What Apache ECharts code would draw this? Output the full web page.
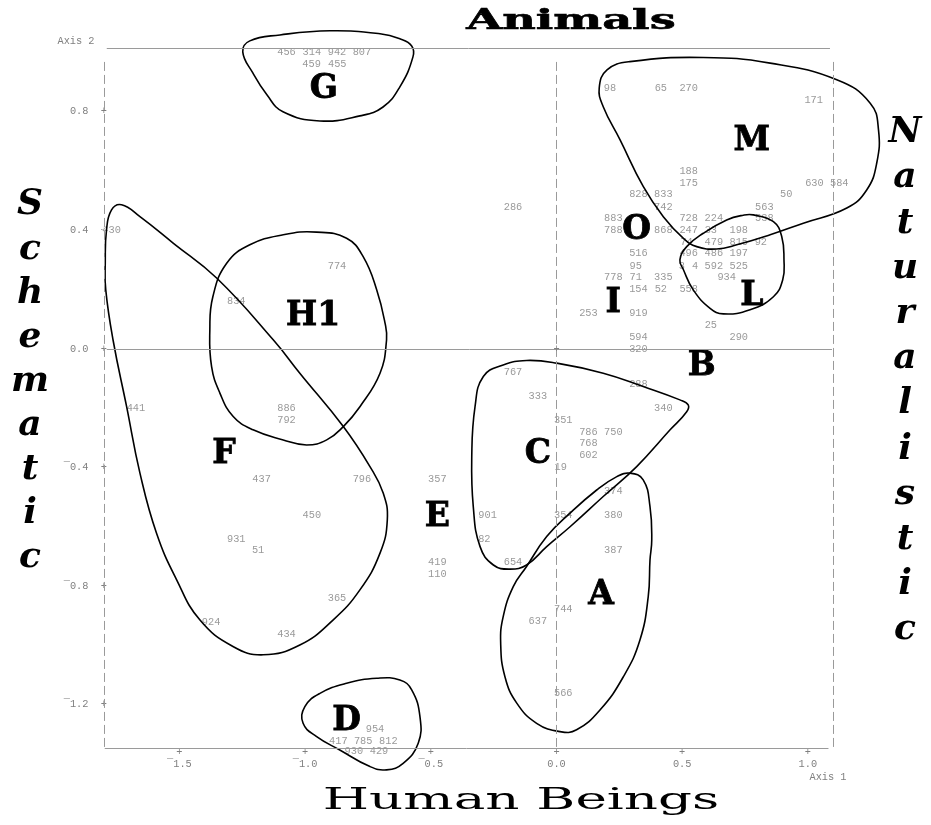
<!DOCTYPE html>
<html>
<head>
<meta charset="utf-8">
<script src="https://cdn.jsdelivr.net/npm/echarts@6/dist/echarts.min.js"></script>
<style>
  html, body { margin: 0; padding: 0; background: #fff; }
  #chart { width: 931px; height: 825px; }
</style>
</head>
<body>
<div id="chart"></div>
<script>
// tick values on both axes
var xTicks = [-1.5, -1.0, -0.5, 0.0, 0.5, 1.0]
var yTicks = [0.8, 0.4, 0.0, -0.4, -0.8, -1.2]

// case numbers and their positions (Axis 1, Axis 2)
var caseIds = [
  '456', '314', '942', '807', '459', '455', '430', '774', '834',
  '98', '65', '270', '171', '188', '175', '630', '584', '828', '833', '50',
  '286', '742', '563', '883', '728', '224', '538', '788', '868', '247', '33', '198',
  '74', '479', '815', '92', '516', '496', '486', '197', '95', '3', '4', '592', '525',
  '778', '71', '335', '934', '154', '52', '558', '253', '919', '25', '594', '290', '320',
  '441', '886', '792', '437', '796', '357', '450', '931', '51', '419', '110', '365', '924', '434',
  '767', '288', '333', '340', '351', '786', '750', '768', '602', '19', '374', '901', '354', '380',
  '82', '387', '654', '744', '637', '566',
  '954', '417', '785', '812', '930', '429'
]
var caseX = [
  -1.074, -0.973, -0.873, -0.774, -0.974, -0.872, -1.770, -0.873, -1.274,
  0.213, 0.415, 0.526, 1.023, 0.526, 0.526, 1.026, 1.125, 0.326, 0.425, 0.914,
  -0.173, 0.425, 0.827, 0.226, 0.526, 0.626, 0.827, 0.226, 0.425, 0.526, 0.614, 0.725,
  0.517, 0.626, 0.725, 0.813, 0.326, 0.526, 0.626, 0.725, 0.315, 0.499, 0.551, 0.626, 0.725,
  0.226, 0.315, 0.425, 0.677, 0.326, 0.415, 0.526, 0.127, 0.326, 0.614, 0.326, 0.725, 0.326,
  -1.673, -1.074, -1.074, -1.173, -0.774, -0.474, -0.973, -1.274, -1.187, -0.474, -0.474, -0.873, -1.374, -1.074,
  -0.173, 0.326, -0.074, 0.425, 0.027, 0.127, 0.226, 0.127, 0.127, 0.017, 0.226, -0.274, 0.027, 0.226,
  -0.287, 0.226, -0.173, 0.027, -0.074, 0.027,
  -0.722, -0.868, -0.769, -0.669, -0.806, -0.706
]
var caseY = [
  1.000, 1.000, 1.000, 1.000, 0.959, 0.959, 0.400, 0.279, 0.160,
  0.880, 0.880, 0.880, 0.839, 0.600, 0.559, 0.559, 0.559, 0.520, 0.520, 0.520,
  0.479, 0.479, 0.479, 0.440, 0.440, 0.440, 0.440, 0.399, 0.399, 0.399, 0.399, 0.399,
  0.360, 0.360, 0.360, 0.360, 0.321, 0.321, 0.321, 0.321, 0.280, 0.280, 0.280, 0.280, 0.280,
  0.240, 0.240, 0.240, 0.240, 0.200, 0.200, 0.200, 0.120, 0.120, 0.080, 0.039, 0.039, 0.000,
  -0.201, -0.201, -0.241, -0.440, -0.440, -0.440, -0.560, -0.641, -0.680, -0.721, -0.760, -0.840, -0.921, -0.962,
  -0.080, -0.120, -0.160, -0.200, -0.241, -0.280, -0.280, -0.320, -0.360, -0.399, -0.481, -0.560, -0.560, -0.560,
  -0.641, -0.679, -0.720, -0.880, -0.920, -1.162,
  -1.283, -1.322, -1.322, -1.322, -1.359, -1.359
]

// cluster letters
var groupNames = ['G', 'H1', 'M', 'O', 'L', 'I', 'F', 'E', 'B', 'C', 'A', 'D']
var groupX = [-0.925, -0.968, 0.777, 0.319, 0.777, 0.226, -1.323, -0.474, 0.578, -0.074, 0.177, -0.835]
var groupY = [0.874, 0.109, 0.699, 0.401, 0.176, 0.154, -0.355, -0.568, -0.060, -0.355, -0.830, -1.257]

// hand drawn cluster outlines
var blobG = [[-0.901, 1.073], [-0.702, 1.063], [-0.623, 1.046], [-0.576, 1.022], [-0.571, 0.985], [-0.623, 0.884],
  [-0.690, 0.816], [-0.782, 0.786], [-0.941, 0.769], [-1.088, 0.800], [-1.152, 0.857], [-1.208, 0.931],
  [-1.248, 1.002], [-1.220, 1.039], [-1.100, 1.059]]
var blobM = [[0.292, 0.969], [0.584, 0.983], [0.850, 0.964], [1.115, 0.908], [1.248, 0.829], [1.281, 0.739],
  [1.274, 0.627], [1.234, 0.536], [1.155, 0.475], [0.982, 0.424], [0.850, 0.385], [0.717, 0.351],
  [0.637, 0.337], [0.558, 0.345], [0.505, 0.373], [0.425, 0.446], [0.345, 0.548], [0.253, 0.705],
  [0.186, 0.817], [0.170, 0.880], [0.201, 0.941]]
var blobL = [[0.783, 0.452], [0.863, 0.429], [0.896, 0.379], [0.905, 0.300], [0.900, 0.233], [0.863, 0.176],
  [0.770, 0.132], [0.664, 0.118], [0.611, 0.137], [0.544, 0.199], [0.505, 0.267], [0.491, 0.300],
  [0.518, 0.345], [0.584, 0.390], [0.677, 0.435], [0.743, 0.451]]
var blobF = [[-1.730, 0.486], [-1.657, 0.446], [-1.525, 0.357], [-1.352, 0.239], [-1.126, 0.030], [-1.021, -0.082],
  [-0.848, -0.262], [-0.742, -0.397], [-0.689, -0.487], [-0.673, -0.577], [-0.702, -0.689], [-0.782, -0.813],
  [-0.888, -0.914], [-1.021, -0.999], [-1.167, -1.032], [-1.287, -1.004], [-1.419, -0.914], [-1.511, -0.779],
  [-1.591, -0.622], [-1.657, -0.419], [-1.710, -0.195], [-1.764, 0.030], [-1.793, 0.199], [-1.795, 0.290],
  [-1.790, 0.401], [-1.770, 0.469]]
var blobH1 = [[-1.379, 0.064], [-1.367, 0.176], [-1.312, 0.289], [-1.220, 0.351], [-1.087, 0.385], [-0.954, 0.394],
  [-0.835, 0.373], [-0.769, 0.311], [-0.715, 0.199], [-0.682, 0.087], [-0.676, 0.030], [-0.702, -0.082],
  [-0.782, -0.195], [-0.848, -0.262], [-0.914, -0.307], [-0.994, -0.324], [-1.087, -0.307], [-1.207, -0.273],
  [-1.286, -0.228], [-1.339, -0.149], [-1.372, -0.060]]
var blobC = [[-0.212, -0.054], [-0.119, -0.039], [0.001, -0.048], [0.186, -0.082], [0.345, -0.127], [0.491, -0.172],
  [0.524, -0.189], [0.518, -0.212], [0.452, -0.273], [0.319, -0.397], [0.186, -0.498], [0.054, -0.600],
  [-0.039, -0.667], [-0.119, -0.729], [-0.185, -0.743], [-0.251, -0.729], [-0.304, -0.667], [-0.331, -0.532],
  [-0.337, -0.363], [-0.324, -0.195], [-0.291, -0.093]]
var blobA = [[0.292, -0.419], [0.345, -0.442], [0.372, -0.532], [0.379, -0.644], [0.372, -0.712], [0.365, -0.836],
  [0.332, -0.982], [0.266, -1.106], [0.173, -1.218], [0.080, -1.285], [0.014, -1.291], [-0.079, -1.263],
  [-0.158, -1.195], [-0.205, -1.106], [-0.222, -0.993], [-0.212, -0.903], [-0.172, -0.802], [-0.119, -0.734],
  [-0.039, -0.633], [0.054, -0.554], [0.160, -0.476], [0.240, -0.431]]
var blobD = [[-1.001, -1.207], [-0.941, -1.162], [-0.835, -1.128], [-0.715, -1.111], [-0.623, -1.117], [-0.576, -1.150],
  [-0.543, -1.241], [-0.550, -1.330], [-0.610, -1.398], [-0.676, -1.420], [-0.742, -1.409], [-0.862, -1.353],
  [-0.954, -1.308], [-1.008, -1.263]]

var blobs = [blobG, blobM, blobL, blobF, blobH1, blobC, blobA, blobD]

var MONO = 'Liberation Mono'
var GREY = '#7f7f7f'
var LINE = '#9a9a9a'

function fmt (v) {
  var s = Math.abs(v).toFixed(1)
  return v < 0 ? '\u00af' + s : s
}

var myChart = echarts.init(document.getElementById('chart'))

var caseData = caseIds.map(function (id, i) {
  return { name: id, value: [caseX[i], caseY[i]] }
})
var groupData = groupNames.map(function (n, i) {
  return [groupX[i], groupY[i]]
})

myChart.setOption({
  animation: false,
  backgroundColor: '#fff',
  grid: { left: 104, right: 98, top: 48, bottom: 76.5 },
  xAxis: {
    type: 'value',
    min: -1.8,
    max: 1.1,
    axisLine: { show: false },
    axisTick: { show: false },
    splitLine: { show: false },
    axisLabel: {
      customValues: xTicks,
      margin: -2,
      formatter: function (v) { return '{p|+}\n{n|' + fmt(v) + '}' },
      rich: {
        p: { fontFamily: MONO, fontSize: 10.3, color: GREY, lineHeight: 12, backgroundColor: '#fff' },
        n: { fontFamily: MONO, fontSize: 10.3, color: GREY, lineHeight: 12 }
      }
    }
  },
  yAxis: {
    type: 'value',
    min: -1.348,
    max: 1.015,
    axisLine: { show: false },
    axisTick: { show: false },
    splitLine: { show: false },
    axisLabel: {
      customValues: yTicks,
      margin: -3,
      fontFamily: MONO,
      fontSize: 10.3,
      color: GREY,
      formatter: function (v) { return fmt(v) + '  +' }
    }
  },
  graphic: [
    {
      type: 'text', x: 571, y: 22, scaleX: 1.65, z: 10,
      style: { text: 'Animals', fontFamily: 'DejaVu Serif', fontWeight: 'bold', fontSize: 28, fill: '#000', stroke: '#000', lineWidth: 0.6, align: 'center', verticalAlign: 'middle' }
    },
    {
      type: 'text', x: 521, y: 801, scaleX: 1.77, z: 10,
      style: { text: 'Human Beings', fontFamily: 'DejaVu Serif', fontSize: 30, fill: '#000', align: 'center', verticalAlign: 'middle' }
    },
    {
      type: 'text', x: 30, y: 381.5, z: 10,
      style: { text: 'Schematic'.split('').join('\n'), fontFamily: 'DejaVu Serif', fontStyle: 'italic', fontWeight: 'bold', fontSize: 36, lineHeight: 44.1, fill: '#000', align: 'center', verticalAlign: 'middle' }
    },
    {
      type: 'text', x: 905, y: 381.5, z: 10,
      style: { text: 'Naturalistic'.split('').join('\n'), fontFamily: 'DejaVu Serif', fontStyle: 'italic', fontWeight: 'bold', fontSize: 36, lineHeight: 45.2, fill: '#000', align: 'center', verticalAlign: 'middle' }
    },
    {
      type: 'text', x: 76, y: 41, z: 10,
      style: { text: 'Axis 2', fontFamily: MONO, fontSize: 10.3, fill: GREY, align: 'center', verticalAlign: 'middle' }
    },
    {
      type: 'text', x: 828, y: 777, z: 10,
      style: { text: 'Axis 1', fontFamily: MONO, fontSize: 10.3, fill: GREY, align: 'center', verticalAlign: 'middle' }
    }
  ],
  series: [
    {
      // solid frame lines
      type: 'line',
      data: [],
      z: 1,
      silent: true,
      markLine: {
        symbol: ['none', 'none'],
        silent: true,
        label: { show: false },
        lineStyle: { color: LINE, width: 1, type: 'solid' },
        data: [
          [{ coord: [-1.789, 1.015] }, { coord: [1.088, 1.015] }],
          [{ coord: [-1.789, 0] }, { coord: [1.096, 0] }],
          [{ coord: [-1.797, -1.348] }, { coord: [1.082, -1.348] }]
        ]
      },
      markPoint: {
        symbol: 'circle',
        symbolSize: 1,
        itemStyle: { color: 'rgba(0,0,0,0)' },
        label: { show: true, position: 'inside', formatter: '+', fontFamily: MONO, fontSize: 10.3, color: GREY },
        data: [{ coord: [0, 0] }]
      }
    },
    {
      // dashed verticals
      type: 'line',
      data: [],
      z: 1,
      silent: true,
      markLine: {
        symbol: ['none', 'none'],
        silent: true,
        label: { show: false },
        lineStyle: { color: LINE, width: 1, type: [9, 4] },
        data: [
          [{ coord: [-1.8, 0.968] }, { coord: [-1.8, -1.348] }],
          [{ coord: [0, 0.968] }, { coord: [0, -1.348] }],
          [{ coord: [1.1, 0.968] }, { coord: [1.1, -1.348] }]
        ]
      }
    },
    {
      name: 'cases',
      type: 'scatter',
      z: 2,
      clip: false,
      silent: true,
      symbolSize: 1,
      itemStyle: { color: 'rgba(0,0,0,0)' },
      label: {
        show: true,
        position: 'inside',
        formatter: '{b}',
        fontFamily: MONO,
        fontSize: 10.3,
        color: GREY,
        backgroundColor: '#fff'
      },
      data: caseData
    },
    {
      name: 'outlines',
      type: 'custom',
      z: 3,
      silent: true,
      clip: false,
      data: blobs.map(function (b) { return b[0] }),
      renderItem: function (params, api) {
        var pts = blobs[params.dataIndex].map(function (p) { return api.coord(p) })
        return {
          type: 'polygon',
          shape: { points: pts, smooth: 0.45 },
          style: { fill: 'none', stroke: '#000', lineWidth: 1.6 }
        }
      }
    },
    {
      name: 'groups',
      type: 'custom',
      z: 4,
      silent: true,
      clip: false,
      data: groupData,
      renderItem: function (params, api) {
        var p = api.coord([api.value(0), api.value(1)])
        return {
          type: 'text',
          x: p[0],
          y: p[1],
          style: {
            text: groupNames[params.dataIndex],
            fontFamily: 'DejaVu Serif',
            fontWeight: 'bold',
            fontSize: 33,
            fill: '#000',
            stroke: '#000',
            lineWidth: 0.8,
            align: 'center',
            verticalAlign: 'middle'
          }
        }
      }
    }
  ]
})
</script>
</body>
</html>
